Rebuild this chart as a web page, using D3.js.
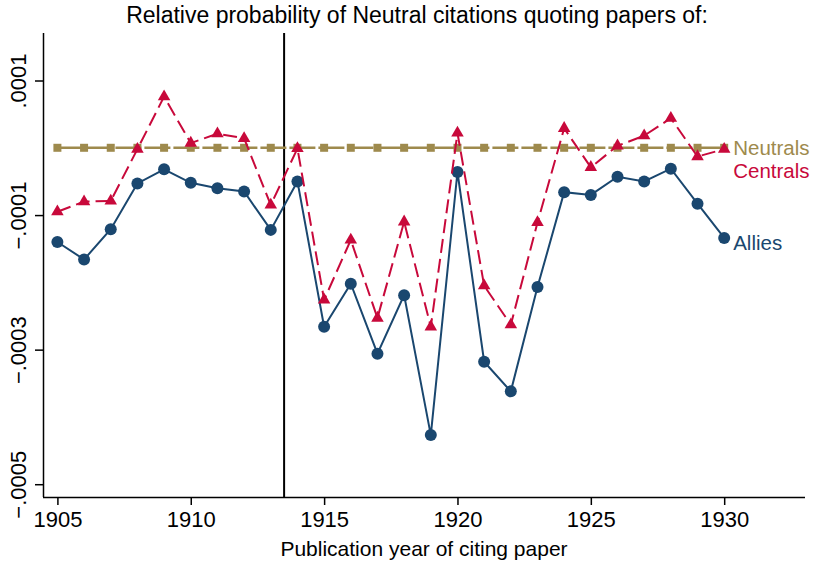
<!DOCTYPE html>
<html>
<head>
  <meta charset="utf-8">
  <script src="https://cdn.jsdelivr.net/npm/d3@7"></script>
  <style>
    body { margin: 0; background: #fff; }
    svg { font-family: "Liberation Sans", Arial, sans-serif; }
  </style>
</head>
<body>
<svg width="814" height="561"></svg>
<script>
  // data, in units of 1e-4
  var years = d3.range(1905, 1931);
  var allies = [-1.40, -1.66, -1.21, -0.53, -0.32, -0.52, -0.60, -0.65, -1.22, -0.50,
                -2.66, -2.02, -3.06, -2.19, -4.27, -0.36, -3.18, -3.62, -2.07, -0.66,
                -0.70, -0.43, -0.50, -0.31, -0.83, -1.34];
  var centrals = [-0.95, -0.80, -0.79, -0.02, 0.76, 0.07, 0.21, 0.14, -0.85, -0.01,
                  -2.26, -1.37, -2.53, -1.10, -2.66, 0.22, -2.05, -2.63, -1.11, 0.29,
                  -0.29, 0.03, 0.18, 0.44, -0.13, -0.02];
  var neutrals = years.map(function() { return 0; });
  var yTicks = [0.0001, -0.0001, -0.0003, -0.0005];
  var xTicks = [1905, 1910, 1915, 1920, 1925, 1930];
  var warYear = 1913.5;

  var svg = d3.select("svg");

  var x = d3.scaleLinear().domain([1904.46, 1933.03]).range([43, 805]);
  var y = d3.scaleLinear().domain([-5.19e-4, 1.706e-4]).range([497, 33]);

  function fmt(v) {
    var s = d3.format(".4f")(Math.abs(v)).replace(/^0/, "");
    return (v < 0 ? "\u2212" : "") + s;
  }

  // axes
  var xAxis = svg.append("g")
      .attr("transform", "translate(0,497)")
      .call(d3.axisBottom(x).tickValues(xTicks).tickSize(8).tickFormat(d3.format("d")));
  xAxis.selectAll("text").attr("font-size", 22).attr("dy", null).attr("y", 30).attr("fill", "#000");

  var yAxis = svg.append("g")
      .attr("transform", "translate(43,0)")
      .call(d3.axisLeft(y).tickValues(yTicks).tickSize(8).tickFormat(fmt));
  yAxis.selectAll("text")
      .attr("font-size", 22).attr("fill", "#000")
      .attr("x", null).attr("dy", null)
      .attr("text-anchor", "middle")
      .attr("transform", "translate(-17,0) rotate(-90)");

  [xAxis, yAxis].forEach(function(g) {
    g.select(".domain").attr("stroke", "#000").attr("stroke-width", 1.5);
    g.selectAll(".tick line").attr("stroke", "#000").attr("stroke-width", 1.5);
  });
  yAxis.select(".domain").attr("d", "M0.5," + y.range()[0] + "V" + y.range()[1]);
  xAxis.select(".domain").attr("d", "M" + x.range()[0] + ",0.5H" + x.range()[1]);

  // vertical line at war start
  svg.append("line")
      .attr("x1", x(warYear)).attr("x2", x(warYear))
      .attr("y1", y.range()[1]).attr("y2", y.range()[0])
      .attr("stroke", "#000").attr("stroke-width", 2);

  var line = d3.line()
      .x(function(d) { return x(d[0]); })
      .y(function(d) { return y(d[1] * 1e-4); });

  function pairs(vals) { return years.map(function(yr, i) { return [yr, vals[i]]; }); }

  var navy = "#1a476f", red = "#c8093b", olive = "#9e8a4d";

  // Allies
  svg.append("path").datum(pairs(allies))
      .attr("d", line).attr("fill", "none").attr("stroke", navy).attr("stroke-width", 2);
  svg.selectAll("circle.allies").data(pairs(allies)).enter()
      .append("circle").attr("class", "allies")
      .attr("cx", function(d) { return x(d[0]); })
      .attr("cy", function(d) { return y(d[1] * 1e-4); })
      .attr("r", 6).attr("fill", navy);

  // Neutrals
  svg.append("path").datum(pairs(neutrals))
      .attr("d", line).attr("fill", "none").attr("stroke", olive).attr("stroke-width", 2.5)
      .attr("stroke-dasharray", "26,3");
  svg.selectAll("rect.neutrals").data(pairs(neutrals)).enter()
      .append("rect").attr("class", "neutrals")
      .attr("x", function(d) { return x(d[0]) - 4; })
      .attr("y", function(d) { return y(d[1] * 1e-4) - 4; })
      .attr("width", 8).attr("height", 8).attr("fill", olive);

  // Centrals
  svg.append("path").datum(pairs(centrals))
      .attr("d", line).attr("fill", "none").attr("stroke", red).attr("stroke-width", 2)
      .attr("stroke-dasharray", "14,6");
  var tri = d3.symbol().type(d3.symbolTriangle).size(68);
  svg.selectAll("path.centrals").data(pairs(centrals)).enter()
      .append("path").attr("class", "centrals")
      .attr("transform", function(d) { return "translate(" + x(d[0]) + "," + y(d[1] * 1e-4) + ")"; })
      .attr("d", tri).attr("fill", red);

  // series labels
  var last = years.length - 1;
  var labels = [
    { text: "Neutrals", v: neutrals[last], dy: 7, color: olive },
    { text: "Centrals", v: centrals[last], dy: 29, color: red },
    { text: "Allies", v: allies[last], dy: 12, color: navy }
  ];
  svg.selectAll("text.lab").data(labels).enter()
      .append("text").attr("class", "lab")
      .attr("x", x(years[last]) + 9)
      .attr("y", function(d) { return y(d.v * 1e-4) + d.dy; })
      .attr("font-size", 20.5)
      .attr("fill", function(d) { return d.color; })
      .text(function(d) { return d.text; });

  // titles
  svg.append("text")
      .attr("x", 417).attr("y", 23).attr("text-anchor", "middle")
      .attr("font-size", 23).text("Relative probability of Neutral citations quoting papers of:");
  svg.append("text")
      .attr("x", 424).attr("y", 556).attr("text-anchor", "middle")
      .attr("font-size", 21).text("Publication year of citing paper");
</script>
</body>
</html>
